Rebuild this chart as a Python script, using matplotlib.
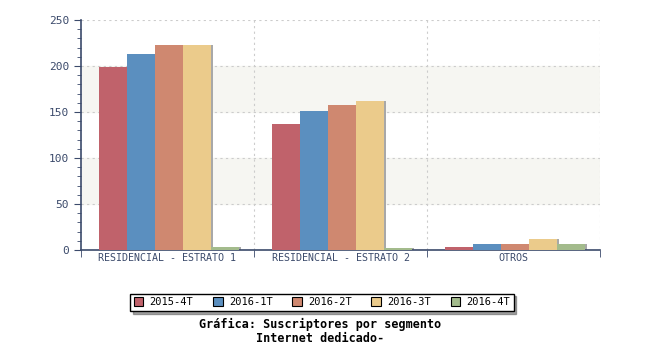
import matplotlib
matplotlib.use('Agg')
import matplotlib.pyplot as plt
import numpy as np
from matplotlib.ticker import MultipleLocator

# Data
categories = ['RESIDENCIAL - ESTRATO 1', 'RESIDENCIAL - ESTRATO 2', 'OTROS']
periods = ['2015-4T', '2016-1T', '2016-2T', '2016-3T', '2016-4T']
v_2015_4t = [199, 137, 3.5]
v_2016_1t = [213, 151, 6]
v_2016_2t = [223, 158, 6]
v_2016_3t = [223, 162, 11.5]
v_2016_4t = [3, 2, 7]
series = [v_2015_4t, v_2016_1t, v_2016_2t, v_2016_3t, v_2016_4t]
colors = ['#c0626b', '#5b8fbf', '#cf8870', '#ebcb8b', '#a3bb8c']

txt = '#3b4a6b'
plt.rcParams['font.family'] = ['DejaVu Sans Mono']

fig = plt.figure(figsize=(6.5, 3.5), dpi=100)
ax = fig.add_axes([0.1246, 0.2857, 0.7985, 0.6572])

index = np.arange(len(categories))
bar_width = 0.162

# alternating bands
for lo in (50, 150):
    ax.axhspan(lo, lo + 50, color='#f6f6f2', zorder=0)

for i, (vals, c) in enumerate(zip(series, colors)):
    x = index - 2 * bar_width + i * bar_width + 0.01
    # shadow
    ax.bar(x + 0.008, vals, bar_width, color='#a8a8a8', zorder=2)
    ax.bar(x, vals, bar_width, color=c, label=periods[i], zorder=3)

ax.set_xlim(-0.5, 2.5)
ax.set_ylim(0, 250)

ax.yaxis.set_major_locator(MultipleLocator(50))
ax.yaxis.set_minor_locator(MultipleLocator(10))
ax.grid(axis='y', which='major', linestyle=(0, (2, 3)), color='#cccccc', linewidth=0.8, zorder=1)
for xb in [0.5, 1.5, 2.5]:
    ax.axvline(xb, linestyle=(0, (2, 3)), color='#cccccc', linewidth=0.8, zorder=1)

ax.set_xticks(index)
ax.set_xticklabels(categories)
ax.set_xticks([-0.5, 0.5, 1.5, 2.5], minor=True)
ax.tick_params(axis='x', which='major', length=0, colors=txt, labelsize=7.2, pad=2)
ax.tick_params(axis='x', which='minor', length=5, direction='out', color=txt)
ax.tick_params(axis='y', which='major', length=5, colors=txt, labelsize=8)
ax.tick_params(axis='y', which='minor', length=3, color=txt)

for s in ['top', 'right']:
    ax.spines[s].set_visible(False)
for s in ['left', 'bottom']:
    ax.spines[s].set_color(txt)
    ax.spines[s].set_linewidth(1.2)

leg = fig.legend(loc='center', bbox_to_anchor=(0.4954, 0.1366), ncol=5, frameon=True,
                 fancybox=False, shadow=True, fontsize=7.5, handlelength=0.9,
                 handleheight=0.9, columnspacing=1.9, borderpad=0.35, handletextpad=0.6)
leg.get_frame().set_edgecolor('black')
leg.get_frame().set_linewidth(1.0)
for h in leg.legend_handles:
    h.set_edgecolor('black')
    h.set_linewidth(0.8)

fig.text(0.4923, 0.072, 'Gráfica: Suscriptores por segmento', ha='center', va='center',
         fontsize=8.5, fontweight='bold', color='black')
fig.text(0.4923, 0.034, 'Internet dedicado-', ha='center', va='center',
         fontsize=8.5, fontweight='bold', color='black')

fig.savefig('out.png', dpi=100)
